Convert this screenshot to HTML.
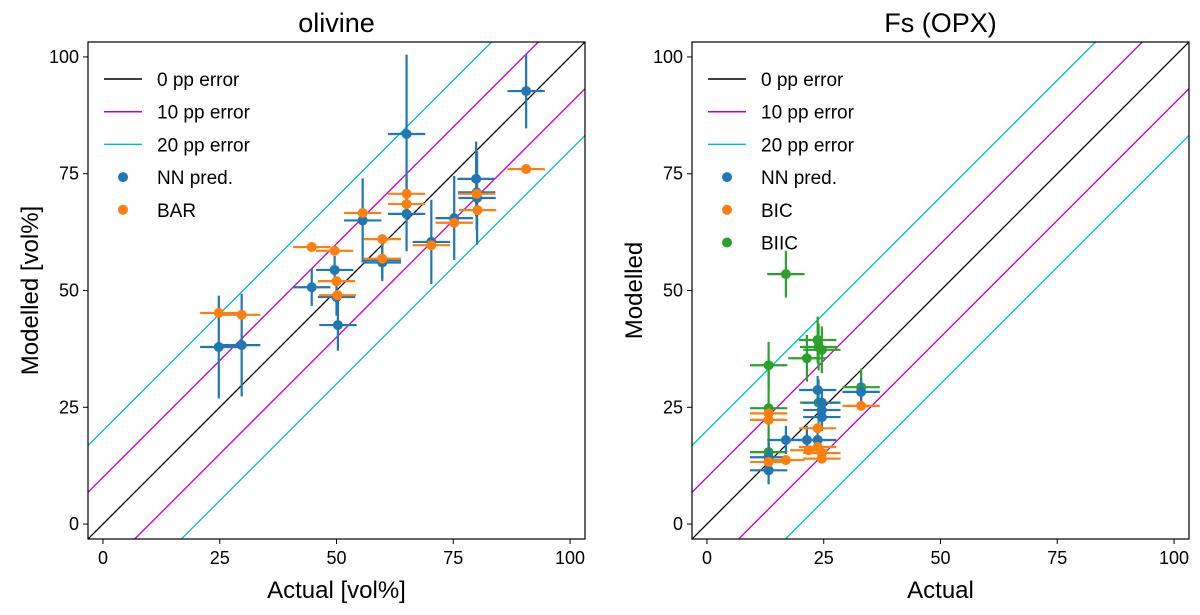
<!DOCTYPE html>
<html><head><meta charset="utf-8"><style>
html,body{margin:0;padding:0;background:#fff;overflow:hidden;}
svg{display:block;}
svg text{font-family:"Liberation Sans","DejaVu Sans",sans-serif;fill:#000;}
</style></head><body>
<svg id="c" width="1200" height="615" xmlns="http://www.w3.org/2000/svg"></svg>
<script>
const ticks=[0,25,50,75,100];
const offsets=[0,10,-10,20,-20];
// left panel: olivine
const olNNx=[24.8,29.7,44.7,49.6,50,50.3,55.6,59.8,59.8,65,65,70.3,75.2,79.9,80,80.1,90.6];
const olNNy=[37.9,38.3,50.7,54.4,48.6,42.6,65,56.5,56,83.5,66.4,60.4,65.5,73.9,71,69.8,92.7];
const olNNyerr=[11,11,4,3,4,5.5,9,4,4,17,8,9,9,8,8,10,8];
const olBARx=[24.8,29.7,44.7,49.6,50,50.2,55.6,59.8,59.8,65,65,70.3,75.2,80,80.2,90.6];
const olBARy=[45.2,44.8,59.3,58.5,52,49,66.6,61,56.8,70.7,68.5,59.7,64.5,70.7,67.2,76];
const olBARyerr=[1,1,1,1,1,1,1,1,1,1,1,1,1,1,1,1];
// right panel: Fs (OPX)
const fsNNx=[13.2,13.2,16.9,21.4,23.7,23.7,24.6,24.6,24.6,33];
const fsNNy=[14.3,11.5,18,18,18,28.7,26,24.4,22.9,28.3];
const fsNNyerr=[3,3,3,3,3,3,3,3,3,3];
const fsBICx=[13.2,13.2,13.2,16.9,23.7,21.8,23.7,24.6,24.6,33];
const fsBICy=[23.7,22.3,13.3,13.7,20.5,15.8,16.5,15.2,14,25.3];
const fsBICyerr=[1,1,1,1,1,1,1,1,1,1];
const fsBIICx=[16.9,13.2,13.2,13.2,21.4,23.7,23.9,24.6,23.9,33];
const fsBIICy=[53.5,34,24.8,15.4,35.5,39.4,37.9,37.3,26,29.3];
const fsBIICyerr=[5,5,9,3,5,5,5,5,5,4];

const NS='http://www.w3.org/2000/svg';
const svg=document.getElementById('c');
const C={b:'#1f77b4',o:'#ff7f0e',g:'#2ca02c',m:'#bf00bf',c:'#00bfbf'};
function el(t,a,p){const e=document.createElementNS(NS,t);for(const k in a)e.setAttribute(k,a[k]);(p||svg).appendChild(e);return e;}
const D0=-3.2,D1=103.2;
function panel(x0,title,xlab,ylab,series,legend,clipId){
  const y0=42,W=497,H=497;
  const sx=v=>x0+(v-D0)/(D1-D0)*W, sy=v=>y0+H-(v-D0)/(D1-D0)*H;
  const g=el('g',{});
  
  
  const cp=el('clipPath',{id:clipId},g);el('rect',{x:x0,y:y0,width:W,height:H},cp);
  const lg=el('g',{'clip-path':'url(#'+clipId+')'},g);
  offsets.forEach(o=>{
    const col=o===0?'#000':(Math.abs(o)===10?C.m:C.c);
    const a=Math.max(D0,D0-o), b=Math.min(D1,D1-o);
    const l=el('line',{x1:sx(a),y1:sy(a+o),x2:sx(b),y2:sy(b+o),stroke:col,'stroke-width':1.3},lg);
    
    
  });
  series.forEach(s=>{
    s.x.forEach((xv,i)=>{
      const yv=s.y[i],ye=s.ye[i],xe=4;
      el('line',{x1:sx(xv-xe),y1:sy(yv),x2:sx(xv+xe),y2:sy(yv),stroke:s.c,'stroke-width':2.2},lg);
      el('line',{x1:sx(xv),y1:sy(yv-ye),x2:sx(xv),y2:sy(yv+ye),stroke:s.c,'stroke-width':2.2},lg);
      const p=el('circle',{cx:sx(xv),cy:sy(yv),r:5,fill:s.c},lg);
      
      
    });
  });
  el('rect',{x:x0,y:y0,width:W,height:H,fill:'none',stroke:'#000','stroke-width':1.2},g);
  ticks.forEach(t=>{
    el('line',{x1:sx(t),y1:y0+H,x2:sx(t),y2:y0+H+5,stroke:'#000'},g);
    const tx=el('text',{x:sx(t),y:y0+H+25,'text-anchor':'middle','font-size':18},g);tx.textContent=t;
    
    
    el('line',{x1:x0-5,y1:sy(t),x2:x0,y2:sy(t),stroke:'#000'},g);
    const ty=el('text',{x:x0-9,y:sy(t)+6,'text-anchor':'end','font-size':18},g);ty.textContent=t;
    
    
  });
  const tt=el('text',{x:x0+W/2,y:32,'text-anchor':'middle','font-size':27},g);tt.textContent=title;
  
  
  const xl=el('text',{x:x0+W/2,y:598,'text-anchor':'middle','font-size':24},g);xl.textContent=xlab;
  
  
  const yl=el('text',{x:0,y:0,'text-anchor':'middle','font-size':24,transform:'translate('+(x0-50)+','+(y0+H/2)+') rotate(-90)'},g);yl.textContent=ylab;
  
  
  legend.forEach((e,i)=>{
    const ly=79+i*32.7;
    const le=el('g',{},g);
    
    
    if(e.line) el('line',{x1:x0+16,y1:ly,x2:x0+54,y2:ly,stroke:e.c,'stroke-width':1.5},le);
    else el('circle',{cx:x0+35,cy:ly,r:5,fill:e.c},le);
    const t=el('text',{x:x0+69,y:ly+7,'font-size':19},le);t.textContent=e.t;
  });
}
const baseLeg=[{t:'0 pp error',c:'#000',line:1},{t:'10 pp error',c:C.m,line:1},{t:'20 pp error',c:C.c,line:1},{t:'NN pred.',c:C.b}];
panel(88,'olivine','Actual [vol%]','Modelled [vol%]',
  [{n:'nn',x:olNNx,y:olNNy,ye:olNNyerr,c:C.b},{n:'bar',x:olBARx,y:olBARy,ye:olBARyerr,c:C.o}],
  baseLeg.concat([{t:'BAR',c:C.o}]),'clipL');
panel(692,'Fs (OPX)','Actual','Modelled',
  [{n:'biic',x:fsBIICx,y:fsBIICy,ye:fsBIICyerr,c:C.g},{n:'nn',x:fsNNx,y:fsNNy,ye:fsNNyerr,c:C.b},{n:'bic',x:fsBICx,y:fsBICy,ye:fsBICyerr,c:C.o}],
  baseLeg.concat([{t:'BIC',c:C.o},{t:'BIIC',c:C.g}]),'clipR');
</script>
</body></html>
